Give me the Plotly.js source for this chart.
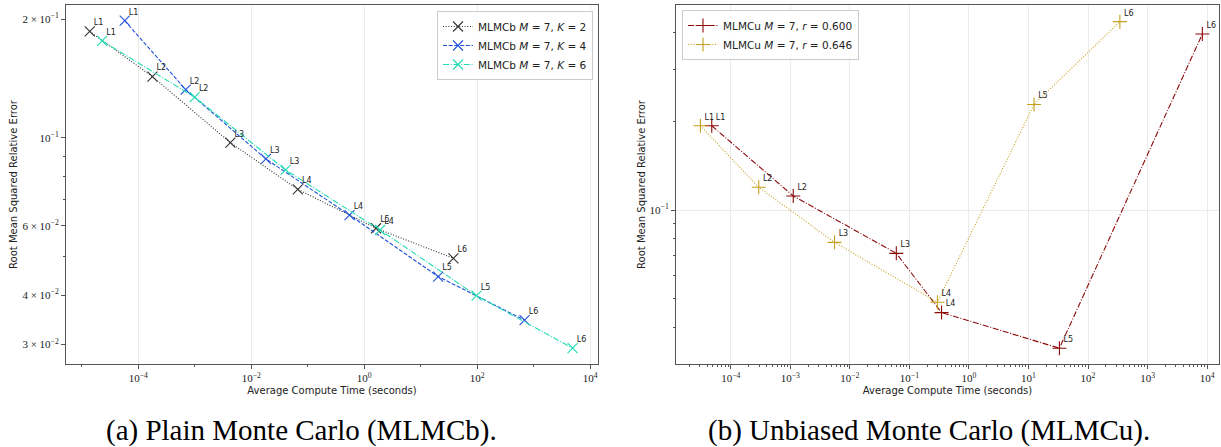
<!DOCTYPE html>
<html>
<head>
<meta charset="utf-8">
<script src="https://cdn.plot.ly/plotly-3.0.1.min.js"></script>
<style>
html,body{margin:0;padding:0;background:#fff;}
#chart{width:1221px;height:447px;}
</style>
</head>
<body>
<div id="chart"></div>
<script>
// ---- data ----
const levelLabels = ['L1', 'L2', 'L3', 'L4', 'L5', 'L6'];

// (a) Plain Monte Carlo (MLMCb)
const bK2Time = [1.38e-5, 1.78e-4, 4.27e-3, 0.0668, 1.62, 38.0];
const bK2Err  = [0.186, 0.143, 0.0973, 0.0741, 0.0591, 0.0496];
const bK4Time = [5.75e-5, 6.92e-4, 0.0182, 0.55, 20.4, 692];
const bK4Err  = [0.198, 0.1325, 0.0885, 0.0638, 0.0446, 0.0346];
const bK6Time = [2.29e-5, 1.0e-3, 0.0407, 1.91, 97.7, 4900];
const bK6Err  = [0.176, 0.1268, 0.083, 0.0585, 0.0399, 0.0294];

// (b) Unbiased Monte Carlo (MLMCu)
const uR600Time = [4.79e-5, 1.12e-3, 0.0603, 0.347, 33.1, 8318];
const uR600Err  = [0.193, 0.1116, 0.0713, 0.0449, 0.034, 0.395];
const uR646Time = [3.09e-5, 2.95e-4, 5.53e-3, 0.295, 12.4, 343];
const uR646Err  = [0.193, 0.1194, 0.0777, 0.0487, 0.228, 0.435];

const names = [
  'MLMCb <i>M</i> = 7, <i>K</i> = 2',
  'MLMCb <i>M</i> = 7, <i>K</i> = 4',
  'MLMCb <i>M</i> = 7, <i>K</i> = 6',
  'MLMCu <i>M</i> = 7, <i>r</i> = 0.600',
  'MLMCu <i>M</i> = 7, <i>r</i> = 0.646'
];

const leftYTickVals = [0.2, 0.1, 0.06, 0.04, 0.03];
const leftYTickText = ['2 × 10<sup>−1</sup>', '10<sup>−1</sup>', '6 × 10<sup>−2</sup>', '4 × 10<sup>−2</sup>', '3 × 10<sup>−2</sup>'];
const leftXTickVals = [1e-4, 1e-2, 1, 1e2, 1e4];
const leftXTickText = ['10<sup>−4</sup>', '10<sup>−2</sup>', '10<sup>0</sup>', '10<sup>2</sup>', '10<sup>4</sup>'];
const rightXTickVals = [1e-4, 1e-3, 1e-2, 1e-1, 1, 1e1, 1e2, 1e3, 1e4];
const rightXTickText = ['10<sup>−4</sup>', '10<sup>−3</sup>', '10<sup>−2</sup>', '10<sup>−1</sup>', '10<sup>0</sup>', '10<sup>1</sup>', '10<sup>2</sup>', '10<sup>3</sup>', '10<sup>4</sup>'];
const rightYTickVals = [0.1];
const rightYTickText = ['10<sup>−1</sup>'];

// ---- helpers ----
function minorDecadeTicks(lo, hi) {
  const v = [];
  for (let e = lo; e <= hi; e++) for (let d = 2; d <= 9; d++) v.push(d * Math.pow(10, e));
  return v;
}

const DOT = '1px,1.7px';
const DASH = '4px,1.7px';
const DASHDOT = '6px,1.7px,1px,1.7px';

function series(x, y, name, color, dash, symbol, xa, ya, legend) {
  return {
    x: x, y: y, name: name, type: 'scatter', mode: 'lines+markers',
    line: {color: color, width: 1.1, dash: dash},
    marker: {symbol: symbol, size: 10, color: color, line: {color: color, width: 1.1}},
    xaxis: xa, yaxis: ya, legend: legend, cliponaxis: false
  };
}
function labels(x, y, xa, ya) {
  return {
    x: x, y: y, type: 'scatter', mode: 'markers+text', showlegend: false,
    text: levelLabels, textposition: 'top right',
    textfont: {family: 'DejaVu Sans', size: 8, color: '#222'},
    marker: {size: 5, opacity: 0, color: '#fff'},
    xaxis: xa, yaxis: ya, cliponaxis: false, hoverinfo: 'skip'
  };
}

const traces = [
  series(bK2Time, bK2Err, names[0], '#333333', DOT, 'x-thin', 'x', 'y', 'legend'),
  series(bK4Time, bK4Err, names[1], '#2353d8', DASH, 'x-thin', 'x', 'y', 'legend'),
  series(bK6Time, bK6Err, names[2], '#22dcb4', DASHDOT, 'x-thin', 'x', 'y', 'legend'),
  series(uR600Time, uR600Err, names[3], '#8b0a0a', DASHDOT, 'cross-thin', 'x2', 'y2', 'legend2'),
  series(uR646Time, uR646Err, names[4], '#c4a018', DOT, 'cross-thin', 'x2', 'y2', 'legend2'),
  labels(bK2Time, bK2Err, 'x', 'y'),
  labels(bK4Time, bK4Err, 'x', 'y'),
  labels(bK6Time, bK6Err, 'x', 'y'),
  labels(uR600Time, uR600Err, 'x2', 'y2'),
  labels(uR646Time, uR646Err, 'x2', 'y2')
];

const tickFont = {family: 'Liberation Serif', size: 11, color: '#222'};
const titleFont = {family: 'DejaVu Sans', size: 10, color: '#222'};
const axisBase = {
  type: 'log', showline: true, mirror: true, linecolor: '#555', linewidth: 1,
  ticks: 'outside', ticklen: 4, tickcolor: '#555', tickfont: tickFont,
  gridcolor: '#ebebeb', gridwidth: 1, zeroline: false, tickmode: 'array', automargin: false
};

const yDomain = [1 - 364 / 447, 1 - 5 / 447];
const layout = {
  width: 1221, height: 447,
  margin: {l: 0, r: 0, t: 0, b: 0},
  paper_bgcolor: '#fff', plot_bgcolor: '#fff',
  showlegend: true,
  xaxis: Object.assign({}, axisBase, {
    domain: [66 / 1221, 598 / 1221], range: [-5.28, 4.14], anchor: 'y',
    tickvals: leftXTickVals, ticktext: leftXTickText, showgrid: true,
    minor: {tickmode: 'array', tickvals: [1e-5, 1e-3, 1e-1, 1e1, 1e3], ticks: 'outside', ticklen: 2, tickcolor: '#555', showgrid: false},
    title: {text: 'Average Compute Time (seconds)', font: titleFont, standoff: 3}
  }),
  yaxis: Object.assign({}, axisBase, {
    domain: yDomain, range: [Math.log10(0.0268), Math.log10(0.217)], anchor: 'x',
    tickvals: leftYTickVals, ticktext: leftYTickText, showgrid: false,
    minor: {tickmode: 'array', tickvals: [0.05, 0.07, 0.08, 0.09], ticks: 'outside', ticklen: 2, tickcolor: '#555', showgrid: false},
    title: {text: 'Root Mean Squared Relative Error', font: titleFont, standoff: 2}
  }),
  yaxis3: {
    type: 'log', overlaying: 'y', anchor: 'x', range: [Math.log10(0.0268), Math.log10(0.217)],
    tickmode: 'array', tickvals: [0.1], showticklabels: false, ticks: '', showgrid: true,
    gridcolor: '#ebebeb', showline: false, zeroline: false
  },
  xaxis2: Object.assign({}, axisBase, {
    domain: [676 / 1221, 1219 / 1221], range: [-4.92, 4.2], anchor: 'y2',
    tickvals: rightXTickVals, ticktext: rightXTickText, showgrid: true,
    minor: {tickmode: 'array', tickvals: minorDecadeTicks(-5, 4), ticks: 'outside', ticklen: 2, tickcolor: '#555', showgrid: false},
    title: {text: 'Average Compute Time (seconds)', font: titleFont, standoff: 3}
  }),
  yaxis2: Object.assign({}, axisBase, {
    domain: yDomain, range: [-1.522, -0.305], anchor: 'x2',
    tickvals: rightYTickVals, ticktext: rightYTickText, showgrid: true,
    minor: {tickmode: 'array', tickvals: [0.04, 0.05, 0.06, 0.07, 0.08, 0.09, 0.2, 0.3, 0.4], ticks: 'outside', ticklen: 2, tickcolor: '#555', showgrid: false},
    title: {text: 'Root Mean Squared Relative Error', font: titleFont, standoff: 2}
  }),
  legend: {
    x: 593 / 1221, xanchor: 'right', y: 1 - 11 / 447, yanchor: 'top',
    bgcolor: 'rgba(255,255,255,0.9)', bordercolor: '#cccccc', borderwidth: 1,
    font: {family: 'DejaVu Sans', size: 10.5, color: '#222'}, tracegroupgap: 0, itemwidth: 30
  },
  legend2: {
    x: 682 / 1221, xanchor: 'left', y: 1 - 10 / 447, yanchor: 'top',
    bgcolor: 'rgba(255,255,255,0.9)', bordercolor: '#cccccc', borderwidth: 1,
    font: {family: 'DejaVu Sans', size: 10.5, color: '#222'}, tracegroupgap: 0, itemwidth: 30
  },
  annotations: [
    {text: '(a) Plain Monte Carlo (MLMCb).', xref: 'paper', yref: 'paper', x: 301 / 1221, y: 1 - 430 / 447,
     xanchor: 'center', yanchor: 'middle', showarrow: false, font: {family: 'Liberation Serif', size: 29, color: '#000'}},
    {text: '(b) Unbiased Monte Carlo (MLMCu).', xref: 'paper', yref: 'paper', x: 929 / 1221, y: 1 - 430 / 447,
     xanchor: 'center', yanchor: 'middle', showarrow: false, font: {family: 'Liberation Serif', size: 29, color: '#000'}}
  ]
};

Plotly.newPlot('chart', traces, layout, {displayModeBar: false, staticPlot: true});
</script>
</body>
</html>
